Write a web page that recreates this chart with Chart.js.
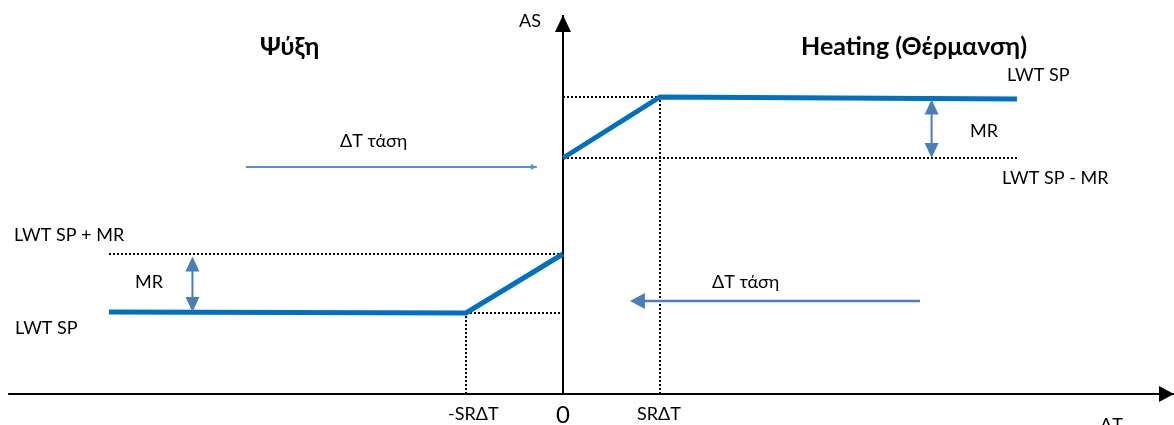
<!DOCTYPE html>
<html>
<head>
<meta charset="utf-8">
<script src="https://cdn.jsdelivr.net/npm/chart.js@4.4.0/dist/chart.umd.min.js"></script>
<style>
  html, body { margin: 0; padding: 0; background: #ffffff; overflow: hidden; }
  #wrap { width: 1174px; height: 425px; position: relative; }
</style>
</head>
<body>
<div id="wrap"><canvas id="c" width="1174" height="425"></canvas></div>
<script>
// ΔT is measured in units of SRΔT, AS in arbitrary capacity units.
const coolingDeltaT = [-4.68, -1, 0];
const coolingAS     = [8.2, 8.1, 14.0];
const heatingDeltaT = [0, 1, 4.68];
const heatingAS     = [23.6, 29.7, 29.5];

// Set-point levels (LWT SP, LWT SP ± MR)
const coolSP   = 8.1;
const coolSPMR = 14.0;
const heatSPMR = 23.6;
const heatSP   = 29.7;

// Extent of the plotted ΔT range and the MR markers
const deltaTLeft  = -4.68;
const deltaTRight = 4.68;
const mrCoolX = -3.82;
const mrHeatX = 3.80;

// ΔT trend arrows: [from, to] on ΔT, at a given AS height
const trendUpX   = [-3.27, -0.27];
const trendUpY   = 22.7;
const trendDownX = [3.68, 0.69];
const trendDownY = 9.3;

// Axis extents
const xAxisRange = [-5.72, 6.30];
const yAxisTop   = 37.9;

const LINE_BLUE  = '#0070C0';
const ARROW_BLUE = '#4A7EBB';
const FONT = 'Lato, "Open Sans", "Noto Sans", sans-serif';

function seg(xs, ys) { return xs.map((x, i) => ({ x: x, y: ys[i] })); }

const dotted = { borderColor: '#000', borderWidth: 2, borderDash: [2, 2], order: 5 };

const datasets = [
  // main characteristic lines
  Object.assign({ data: seg(coolingDeltaT, coolingAS) }, { borderColor: LINE_BLUE, borderWidth: 5, order: 1, borderJoinStyle: 'miter' }),
  Object.assign({ data: seg(heatingDeltaT, heatingAS) }, { borderColor: LINE_BLUE, borderWidth: 5, order: 1, borderJoinStyle: 'miter' }),
  // dotted reference lines
  Object.assign({ data: seg([0, 1], [heatSP, heatSP]) }, dotted),
  Object.assign({ data: seg([0, deltaTRight], [heatSPMR, heatSPMR]) }, dotted),
  Object.assign({ data: seg([1, 1], [0, heatSP]) }, dotted),
  Object.assign({ data: seg([deltaTLeft, 0], [coolSPMR, coolSPMR]) }, dotted),
  Object.assign({ data: seg([-1, 0], [coolSP, coolSP]) }, dotted),
  Object.assign({ data: seg([-1, -1], [0, coolSP]) }, dotted),
  // axes
  { data: seg(xAxisRange, [0, 0]), borderColor: '#000', borderWidth: 2, order: 3 },
  { data: seg([0, 0], [0, yAxisTop]), borderColor: '#000', borderWidth: 2, order: 3 },
  // MR double arrows (shafts)
  { data: seg([mrHeatX, mrHeatX], [heatSP - 0.8, heatSPMR + 0.8]), borderColor: ARROW_BLUE, borderWidth: 2, order: 2 },
  { data: seg([mrCoolX, mrCoolX], [coolSPMR - 0.8, coolSP + 0.8]), borderColor: ARROW_BLUE, borderWidth: 2, order: 2 },
  // ΔT trend arrows (shafts)
  { data: seg(trendUpX, [trendUpY, trendUpY]), borderColor: '#5B8FD3', borderWidth: 2, order: 2 },
  { data: seg([trendDownX[0], trendDownX[1] + 0.1], [trendDownY, trendDownY]), borderColor: ARROW_BLUE, borderWidth: 2.5, order: 2 }
];

// Text annotations in data coordinates
const labels = [
  { t: 'AS', x: -0.454, y: 36.7, f: '18px ' + FONT },
  { t: 'Ψύξη', x: -3.124, y: 33.9, f: 'bold 25px ' + FONT },
  { t: 'Heating (Θέρμανση)', x: 2.454, y: 33.9, f: 'bold 25px ' + FONT },
  { t: 'LWT SP', x: 4.577, y: 31.3, f: '18px ' + FONT },
  { t: 'MR', x: 4.196, y: 25.7, f: '18px ' + FONT },
  { t: 'LWT SP - MR', x: 4.526, y: 21.0, f: '18px ' + FONT },
  { t: 'ΔT τάση', x: -2.299, y: 24.7, f: '18px ' + FONT },
  { t: 'ΔT τάση', x: 1.536, y: 10.6, f: '18px ' + FONT },
  { t: 'LWT SP + MR', x: -5.660, y: 15.3, f: '18px ' + FONT },
  { t: 'MR', x: -4.412, y: 10.6, f: '18px ' + FONT },
  { t: 'LWT SP', x: -5.649, y: 6.0, f: '18px ' + FONT },
  { t: '-SRΔT', x: -1.186, y: -2.6, f: '18px ' + FONT },
  { t: '0', x: 0, y: -2.9, f: '24px ' + FONT, a: 'center' },
  { t: 'SRΔT', x: 0.763, y: -2.6, f: '18px ' + FONT },
  { t: 'ΔT', x: 5.536, y: -3.7, f: '18px ' + FONT }
];

function head(ctx, tx, ty, dx, dy, len, half, color) {
  // filled triangle, tip at (tx,ty), pointing along (dx,dy)
  const bx = tx - dx * len, by = ty - dy * len;
  const nx = -dy, ny = dx;
  ctx.beginPath();
  ctx.moveTo(tx, ty);
  ctx.lineTo(bx + nx * half, by + ny * half);
  ctx.lineTo(bx - nx * half, by - ny * half);
  ctx.closePath();
  ctx.fillStyle = color;
  ctx.fill();
}

const annotate = {
  id: 'annotate',
  afterDatasetsDraw(chart) {
    const ctx = chart.ctx;
    const xs = chart.scales.x, ys = chart.scales.y;
    const px = v => xs.getPixelForValue(v), py = v => ys.getPixelForValue(v);
    ctx.save();
    // axis arrowheads
    head(ctx, 1174, py(0), 1, 0, 15, 8, '#000');
    head(ctx, px(0), py(yAxisTop), 0, -1, 17, 8, '#000');
    // MR arrowheads
    head(ctx, px(mrHeatX), py(heatSP) + 2.5, 0, -1, 15, 7, ARROW_BLUE);
    head(ctx, px(mrHeatX), py(heatSPMR), 0, 1, 15, 7, ARROW_BLUE);
    head(ctx, px(mrCoolX), py(coolSPMR) + 2.5, 0, -1, 15, 7, ARROW_BLUE);
    head(ctx, px(mrCoolX), py(coolSP) - 1, 0, 1, 15, 7, ARROW_BLUE);
    // trend arrowheads
    head(ctx, px(trendUpX[1]), py(trendUpY), 1, 0, 6, 3, '#5B8FD3');
    head(ctx, px(trendDownX[1]), py(trendDownY), -1, 0, 15, 8, ARROW_BLUE);
    // text
    ctx.fillStyle = '#000';
    ctx.textBaseline = 'alphabetic';
    labels.forEach(l => {
      ctx.font = l.f;
      ctx.textAlign = l.a || 'left';
      ctx.fillText(l.t, px(l.x), py(l.y));
    });
    ctx.restore();
  }
};

new Chart(document.getElementById('c'), {
  type: 'scatter',
  data: {
    datasets: datasets.map(d => Object.assign({ showLine: true, pointRadius: 0, fill: false, tension: 0, borderCapStyle: 'butt' }, d))
  },
  options: {
    responsive: false,
    animation: false,
    devicePixelRatio: 1,
    layout: { padding: 0 },
    plugins: { legend: { display: false }, tooltip: { enabled: false } },
    scales: {
      x: { type: 'linear', min: -563 / 97, max: 611 / 97, display: false },
      y: { type: 'linear', min: -3.1, max: 39.4, display: false }
    }
  },
  plugins: [annotate]
});
</script>
</body>
</html>
